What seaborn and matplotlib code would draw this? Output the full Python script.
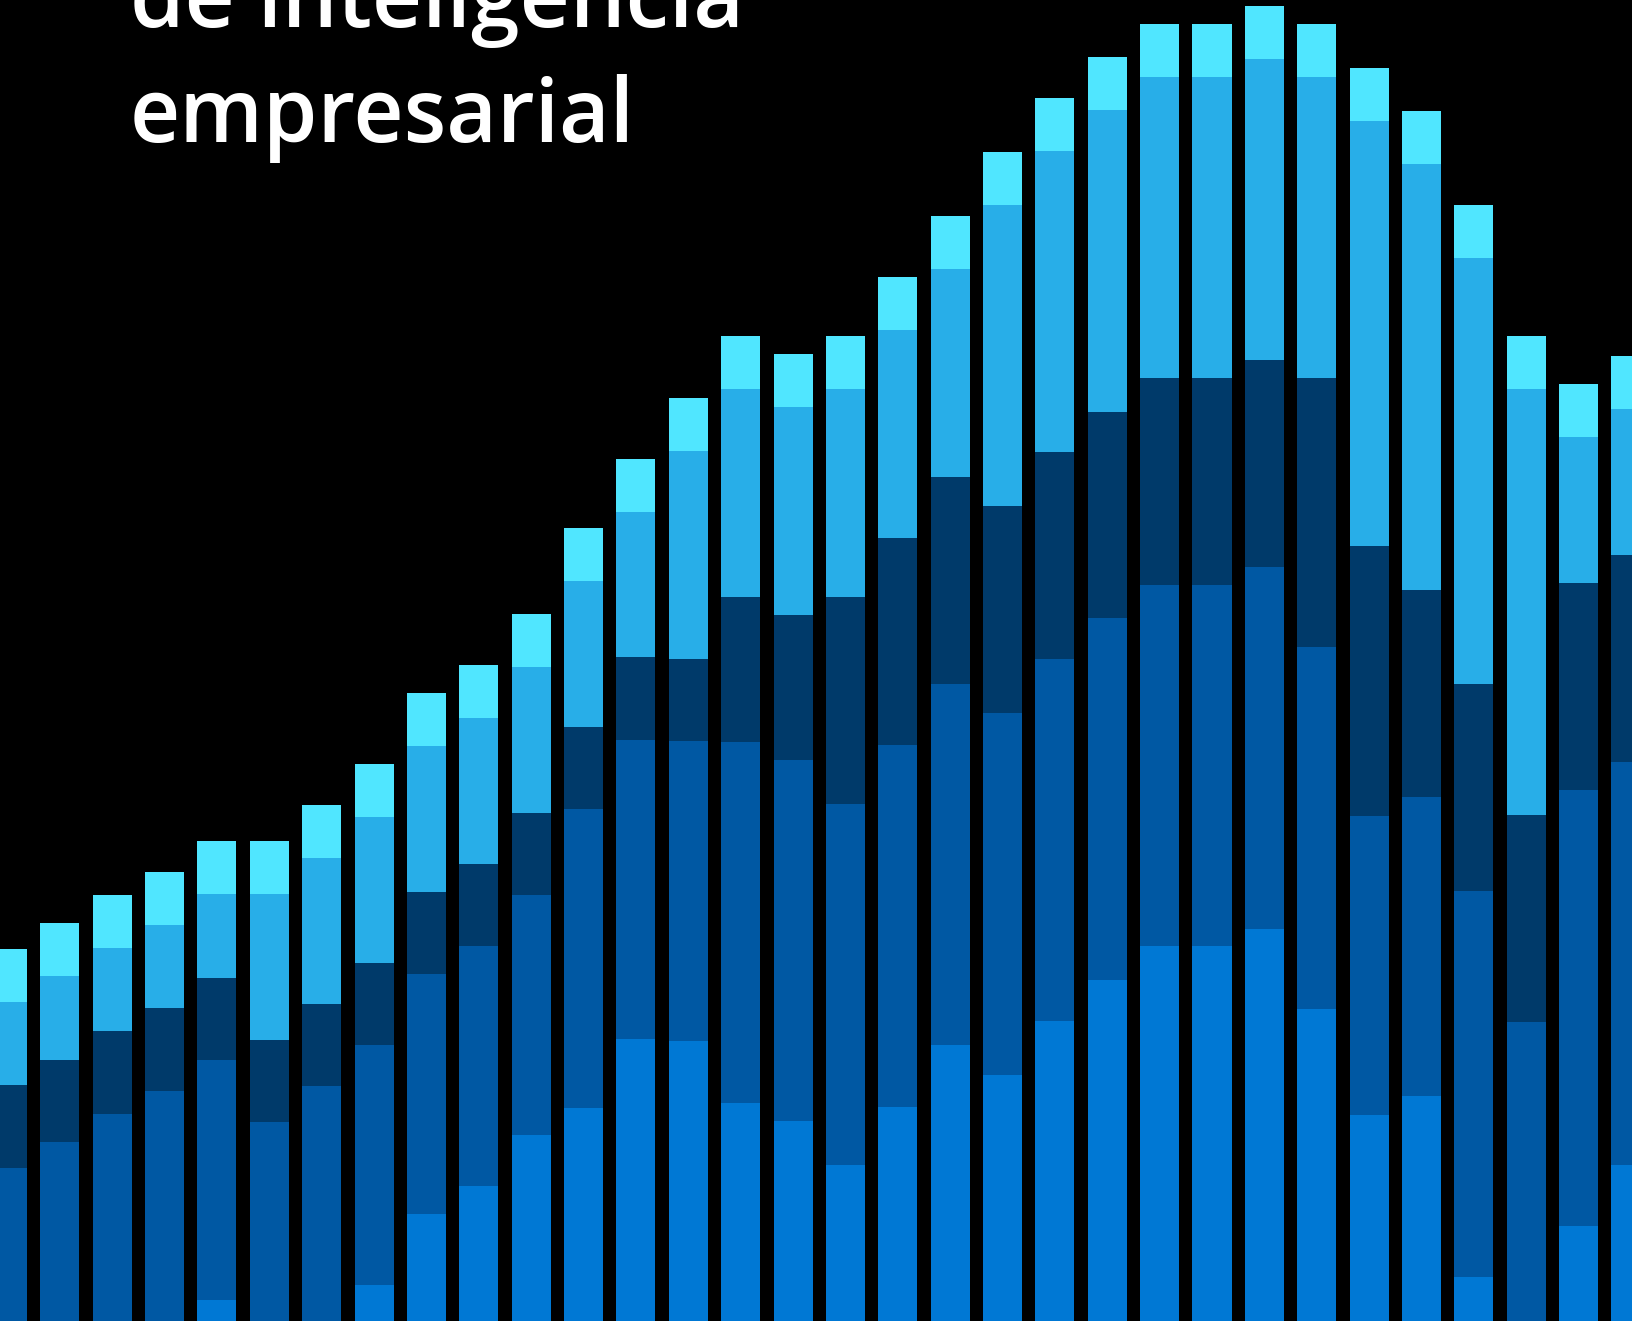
import numpy as np
import pandas as pd
import seaborn as sns
import matplotlib.pyplot as plt

# segment heights per bar, bottom to top (units ~ pixels of the original)
bright = [0, 0, 0, 0, 21, 0, 0, 36, 107, 135, 186, 213, 282, 280, 218, 200,
          156, 214, 276, 246, 300, 341, 375, 375, 392, 312, 206, 225, 44, 0, 95, 156]
dark = [153, 179, 207, 230, 240, 199, 235, 240, 240, 240, 240, 299, 299, 300, 361, 361,
        361, 362, 361, 362, 362, 362, 361, 361, 362, 362, 299, 299, 386, 299, 436, 403]
navy = [83, 82, 83, 83, 82, 82, 82, 82, 82, 82, 82, 82, 83, 82, 145, 145,
        207, 207, 207, 207, 207, 206, 207, 207, 207, 269, 270, 207, 207, 207, 207, 207]
light = [83, 84, 83, 83, 84, 146, 146, 146, 146, 146, 146, 146, 145, 208, 208, 208,
         208, 208, 208, 301, 301, 302, 301, 301, 301, 301, 425, 426, 426, 426, 146, 146]
cyan = [53] * 32

series = ["bright", "dark", "navy", "light", "cyan"]
colors = {"bright": "#0078D4", "dark": "#0058A3", "navy": "#003A6A",
          "light": "#28AEE8", "cyan": "#50E6FF"}

df = pd.DataFrame({"bright": bright, "dark": dark, "navy": navy,
                   "light": light, "cyan": cyan})
df["bar"] = np.arange(len(df))
cum = df[series].cumsum(axis=1)

fig = plt.figure(figsize=(16.32, 13.21), dpi=100, facecolor="black")
ax = fig.add_axes([0, 0, 1, 1])
ax.set_facecolor("black")

# draw stacked bars from the top segment down so each lower total covers the one above
for s in reversed(series):
    sns.barplot(x=df["bar"], y=cum[s], color=colors[s], saturation=1,
                width=0.745, linewidth=0, ax=ax)

ax.set_xlim(-0.143, 31.02)
ax.set_ylim(0, 1321)
ax.axis("off")

# title runs off the top edge, as in the source image
title_font = dict(family=["Open Sans", "DejaVu Sans"], weight="semibold",
                  fontsize=63, color="white", va="baseline", ha="left")
fig.text(130 / 1632, 1 - 27 / 1321, "de inteligencia", **title_font)
fig.text(130 / 1632, 1 - 142 / 1321, "empresarial", **title_font)

fig.savefig("out.png", dpi=100, facecolor="black")
